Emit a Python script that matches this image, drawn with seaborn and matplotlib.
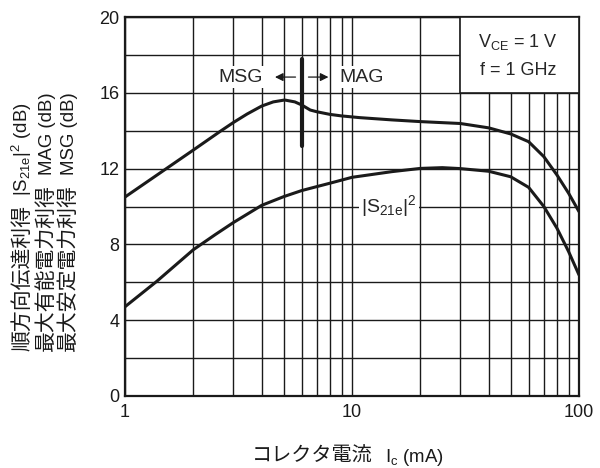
import numpy as np
import pandas as pd
import matplotlib
matplotlib.use("Agg")
import matplotlib.pyplot as plt
import seaborn as sns
from matplotlib.ticker import MultipleLocator, NullFormatter, FixedLocator
from matplotlib.patches import Rectangle

# MSG / MAG curve
gain_ic = [1, 1.5, 2, 2.63, 3, 3.45, 4, 4.5, 5.05, 5.6, 6, 6.55, 7, 8, 9, 10.8,
           15, 20, 30, 40, 50, 60, 70, 80, 90, 100]
gain_db = [10.5, 11.95, 12.98, 13.97, 14.43, 14.88, 15.3, 15.52, 15.62, 15.52, 15.36, 15.09, 15.0,
           14.86, 14.78, 14.69, 14.57, 14.48, 14.38, 14.15, 13.83, 13.42, 12.63, 11.66, 10.7, 9.73]

# |S21e|^2 curve
s21_ic = [1, 1.38, 2, 2.5, 3, 4, 5, 6, 7, 8, 10, 15, 20, 25, 30, 40, 50, 60, 70, 80, 90, 100]
s21_db = [4.71, 6.05, 7.72, 8.52, 9.15, 10.06, 10.52, 10.84, 11.05, 11.23, 11.54, 11.84, 12.01, 12.05,
          12.0, 11.86, 11.57, 11.01, 10.0, 8.85, 7.62, 6.39]

x_ticks = [1, 10, 100]
y_ticks = [0, 4, 8, 12, 16, 20]

ylabel_lines = [['順方向伝達利得', r'|S$_{\rm 21e}$|$^{\rm 2}$ (dB)'],
                ['最大有能電力利得', 'MAG (dB)'],
                ['最大安定電力利得', 'MSG (dB)']]
xlabel_parts = ['コレクタ電流', r'I$_{\rm c}$ (mA)']

sns.set_style("white")
plt.rcParams['font.family'] = ['Liberation Sans', 'Noto Sans CJK JP', 'DejaVu Sans']
plt.rcParams['mathtext.fontset'] = 'custom'
plt.rcParams['mathtext.rm'] = 'Liberation Sans'
plt.rcParams['mathtext.it'] = 'Liberation Sans'
ink = '#1a1a1a'

df_gain = pd.DataFrame({'ic': gain_ic, 'db': gain_db})
df_s21 = pd.DataFrame({'ic': s21_ic, 'db': s21_db})

W, H = 600, 468
fig = plt.figure(figsize=(W / 100, H / 100), dpi=100)
ax = fig.add_axes([125 / W, 1 - 396 / H, 454 / W, 379 / H])

sns.lineplot(data=df_gain, x='ic', y='db', ax=ax, color=ink, lw=2.2, zorder=5)
sns.lineplot(data=df_s21, x='ic', y='db', ax=ax, color=ink, lw=2.2, zorder=5)

ax.set_xscale('log')
ax.set_xlim(1, 100)
ax.set_ylim(0, 20)
ax.xaxis.set_major_locator(FixedLocator(x_ticks))
ax.set_xticklabels([str(t) for t in x_ticks])
ax.xaxis.set_minor_formatter(NullFormatter())
ax.set_yticks(y_ticks)
ax.yaxis.set_minor_locator(MultipleLocator(2))
ax.tick_params(which='both', length=0, labelsize=13, colors=ink)
ax.tick_params(axis='x', pad=6)
ax.tick_params(axis='y', pad=4)
ax.grid(which='both', color=ink, lw=1.0)
for s in ax.spines.values():
    s.set_color(ink)
    s.set_linewidth(1.6)
ax.set_xlabel('')
ax.set_ylabel('')

# condition box
ax.add_patch(Rectangle((30, 16), 70, 4, facecolor='white', edgecolor=ink, lw=1.2, zorder=3))
ax.text(54, 18.7, r'V$_{\rm CE}$ = 1 V', ha='center', va='center', fontsize=13, zorder=4)
ax.text(54, 17.2, 'f = 1 GHz', ha='center', va='center', fontsize=13, zorder=4)

# MSG / MAG boundary
ax.plot([6, 6], [13.2, 17.8], color=ink, lw=3, zorder=6)
ax.annotate('', xy=(4.45, 16.83), xytext=(5.8, 16.83),
            arrowprops=dict(arrowstyle='-|>', color=ink, lw=0.9, mutation_scale=12), zorder=6)
ax.annotate('', xy=(8.1, 16.83), xytext=(6.25, 16.83),
            arrowprops=dict(arrowstyle='-|>', color=ink, lw=0.9, mutation_scale=12), zorder=6)
bb = dict(facecolor='white', edgecolor='none', pad=1.5)
ax.text(3.23, 16.83, 'MSG', ha='center', va='center', fontsize=14, bbox=bb, zorder=6)
ax.text(11.0, 16.83, 'MAG', ha='center', va='center', fontsize=14, bbox=bb, zorder=6)
ax.text(14.6, 10.0, r'|S$_{\rm 21e}$|$^{\rm 2}$', ha='center', va='center', fontsize=14, bbox=bb, zorder=6)

# axis labels built from pieces so CJK and mathtext can share one line
renderer = fig.canvas.get_renderer()
sizes = [15, 13.4]
gap = 9
for bx, parts in zip([28.5, 51.5, 73.5], ylabel_lines):
    y = 117
    for p, fs in zip(parts, sizes):
        t = fig.text(bx / W, y / H, p, rotation=90, rotation_mode='anchor',
                     ha='left', va='baseline', fontsize=fs, color=ink)
        y += t.get_window_extent(renderer).height + gap

pieces = [fig.text(0, 6 / H, p, ha='left', va='baseline', fontsize=fs, color=ink)
          for p, fs in zip(xlabel_parts, [14.5, 13.4])]
widths = [p.get_window_extent(renderer).width for p in pieces]
xgap = 12
x = 348 - (sum(widths) + xgap) / 2
for p, w in zip(pieces, widths):
    p.set_x(x / W)
    x += w + xgap

fig.savefig('out.png', dpi=100, facecolor='white')
